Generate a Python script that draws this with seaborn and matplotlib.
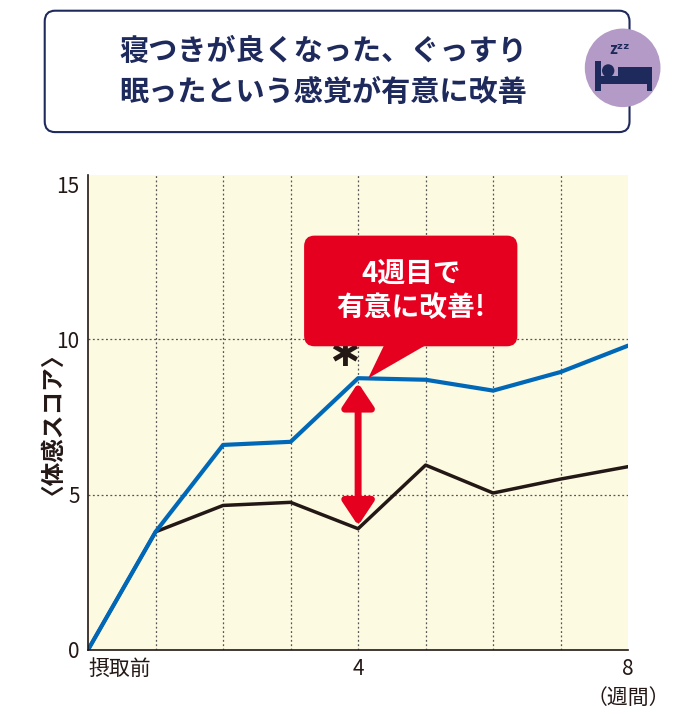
import matplotlib
matplotlib.use("Agg")
import matplotlib.pyplot as plt
from matplotlib.patches import FancyBboxPatch, Circle, Polygon, Rectangle
import seaborn as sns
import pandas as pd

sns.set_theme(style="white")
plt.rcParams['font.family'] = ['Noto Sans CJK JP', 'DejaVu Sans']

weeks = [0, 1, 2, 3, 4, 5, 6, 7, 8]
active = [0, 3.8, 6.6, 6.7, 8.75, 8.7, 8.35, 8.95, 9.8]
placebo = [0, 3.8, 4.65, 4.75, 3.9, 5.95, 5.05, 5.5, 5.9]
tick_pos = [0, 4, 8]
tick_labels = ["摂取前", "4", "8"]

df = pd.DataFrame({"week": weeks * 2, "score": placebo + active,
                   "group": ["placebo"] * 9 + ["active"] * 9})

fig = plt.figure(figsize=(6.88, 7.14), dpi=100)
ax = fig.add_axes([0.128, 0.09, 0.785, 0.665])
ax.set_facecolor("#fdfae2")
sns.lineplot(data=df, x="week", y="score", hue="group",
             palette={"placebo": "#231815", "active": "#0068b7"},
             linewidth=3, ax=ax, legend=False)
ax.lines[0].set_linewidth(2.5)
ax.set_xlim(0, 8)
ax.set_ylim(0, 15.3)
ax.set_xticks(tick_pos)
ax.set_xticklabels(tick_labels, fontsize=15, color="#231815")
ax.set_yticks([0, 5, 10, 15])
ax.set_yticklabels(["0", "5", "10", "15"], fontsize=15, color="#231815")
ax.tick_params(length=0, pad=6)
ax.xaxis.get_ticklabels()[0].set_horizontalalignment("left")
for w in range(1, 8):
    ax.axvline(w, color="#555555", linestyle=(0, (1.5, 2)), linewidth=0.9, zorder=0)
for v in [5, 10]:
    ax.axhline(v, color="#555555", linestyle=(0, (1.5, 2)), linewidth=0.9, zorder=0)
for s in ["top", "right"]:
    ax.spines[s].set_visible(False)
for s in ["left", "bottom"]:
    ax.spines[s].set_color("#231815")
    ax.spines[s].set_linewidth(1.2)
ax.set_xlabel("")
ax.set_ylabel("〈体感スコア〉", fontsize=17, fontweight="bold", color="#231815", labelpad=2)
ax.text(8, -1.2, "（週間）", ha="center", va="top", fontsize=15, color="#231815")

# arrow and asterisk
ax.annotate("", xy=(4, 4.0), xytext=(4, 8.6),
            arrowprops=dict(arrowstyle="<|-|>,head_width=0.8,head_length=1.2",
                            color="#e50020", lw=5, shrinkA=0, shrinkB=0))
ax.text(3.8, 8.85, "∗", fontsize=30, ha="center", va="bottom", color="#231815",
        fontweight="bold", family=["DejaVu Sans"], zorder=5)

# callout
red = "#e50020"
box = FancyBboxPatch((0.442, 0.515), 0.31, 0.155, boxstyle="round,pad=0,rounding_size=0.015",
                     transform=fig.transFigure, facecolor=red, edgecolor="none")
fig.add_artist(box)
fig.add_artist(Polygon([[0.56, 0.52], [0.625, 0.52], [0.535, 0.47]], closed=True,
                       transform=fig.transFigure, facecolor=red, edgecolor="none"))
fig.text(0.597, 0.593, "4週目で\n有意に改善!", ha="center", va="center", fontsize=20,
         fontweight="bold", color="white", linespacing=1.3)

# title box
tbox = FancyBboxPatch((0.065, 0.815), 0.85, 0.17, boxstyle="round,pad=0,rounding_size=0.015",
                      transform=fig.transFigure, facecolor="white", edgecolor="#1f2a5c", lw=1.5)
fig.add_artist(tbox)
fig.text(0.47, 0.9, "寝つきが良くなった、ぐっすり\n眠ったという感覚が有意に改善", ha="center",
         va="center", fontsize=21, fontweight="bold", color="#1f2a5c", linespacing=1.45)
circ = Circle((0.905, 0.905), 0.055, transform=fig.transFigure, facecolor="#b49ac6",
              edgecolor="none")
fig.add_artist(circ)
fig.text(0.9, 0.932, "zᶻᶻ", ha="center", va="center", fontsize=11, color="#1f2a5c", fontweight="bold")
# bed icon drawn as shapes
navy = "#1f2a5c"
for r in [(0.865, 0.872, 0.008, 0.042), (0.94, 0.872, 0.008, 0.028),
          (0.865, 0.882, 0.083, 0.012), (0.898, 0.894, 0.05, 0.012)]:
    fig.add_artist(Rectangle(r[:2], r[2], r[3], transform=fig.transFigure,
                             facecolor=navy, edgecolor="none"))
fig.add_artist(Circle((0.884, 0.901), 0.009, transform=fig.transFigure,
                      facecolor=navy, edgecolor="none"))

fig.savefig("out.png", dpi=100)
